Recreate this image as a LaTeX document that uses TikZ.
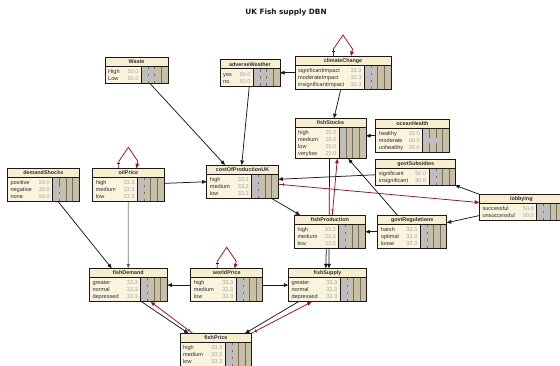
\documentclass[tikz,border=0pt]{standalone}
\usepackage{fontspec}
\setmainfont{Liberation Sans}
\newfontfamily\headfont{DejaVu Sans}
\usetikzlibrary{arrows.meta,calc,decorations.markings}
\pgfdeclarelayer{links}
\pgfsetlayers{links,main}

\definecolor{nodecream}{RGB}{247,238,210}
\definecolor{bodycream}{RGB}{250,243,222}
\definecolor{bararea}{RGB}{200,191,168}
\definecolor{gridline}{RGB}{118,108,88}
\definecolor{beliefbar}{RGB}{186,188,198}
\definecolor{valgray}{RGB}{165,165,165}
\definecolor{statetext}{RGB}{45,45,45}
\definecolor{linkred}{RGB}{150,20,25}
\definecolor{linkdark}{RGB}{25,25,25}
\definecolor{linkgrey}{RGB}{120,120,120}

\tikzset{
  bnframe/.style={fill=nodecream, draw=none, inner sep=0pt, outer sep=0pt, anchor=north west},
  bnouter/.style={draw=linkdark, line width=0.75pt},
  bnsep/.style={draw=linkdark, line width=1pt},
  bngrid/.style={draw=gridline, line width=0.6pt},
  bntitle/.style={font=\fontsize{5.4}{6}\selectfont\bfseries, text=statetext, inner sep=0pt, anchor=base},
  bnstate/.style={font=\fontsize{5.6}{6}\selectfont, text=statetext, inner sep=0pt, anchor=base west},
  bnvalue/.style={font=\fontsize{5.6}{6}\selectfont, text=valgray, inner sep=0pt, anchor=base east},
  link/.style={draw=linkdark, line width=0.75pt, -{Triangle[length=4.5pt,width=3.6pt]}},
  greylink/.style={link, draw=linkgrey, -{Triangle[length=4.5pt,width=3.6pt,fill=linkdark]}},
  templink/.style={draw=linkred, line width=0.75pt, -{Triangle[length=4.5pt,width=3.6pt]},
    postaction={decorate, decoration={markings,
      mark=at position 5pt with {\draw[-, draw=linkdark, line width=0.6pt] (0pt,-1.6pt) -- (0pt,1.6pt);}}}},
}

% \bnbox{name}{left}{top}{width}{rows}{title}{state/value,...}
\newcommand\bnbox[7]{%
  \pgfmathsetmacro\bnX{#2}%
  \pgfmathsetmacro\bnY{#3}%
  \pgfmathsetmacro\bnW{#4}%
  \pgfmathsetmacro\bnH{12.5+7*#5}%
  \pgfmathsetmacro\bnA{\bnX+\bnW-26.5}%
  \node[bnframe, minimum width=\bnW pt, minimum height=\bnH pt] (#1) at (\bnX,\bnY) {};
  \fill[bodycream] (\bnX,\bnY+9) rectangle (\bnA,\bnY+\bnH);
  \fill[bararea] (\bnA,\bnY+9) rectangle (\bnX+\bnW,\bnY+\bnH);
  \foreach \q in {1,2,3}{\draw[bngrid] (\bnA+6.625*\q,\bnY+9) -- (\bnA+6.625*\q,\bnY+\bnH);}
  \foreach \st/\va [count=\i] in {#7}{%
    \pgfmathsetmacro\bnR{\bnY+14.5+7*(\i-1)}%
    \fill[beliefbar] (\bnA,\bnR-2.4) rectangle (\bnA+0.265*\va,\bnR+2.4);
    \node[bnstate] (#1-s\i) at (\bnX+3,\bnR+2) {\st};
    \node[bnvalue] (#1-v\i) at (\bnA-2.8,\bnR+2) {\va};
  }
  \draw[bnsep] (\bnX,\bnY+9) -- (\bnX+\bnW,\bnY+9);
  \draw[bnsep] (\bnA,\bnY+9) -- (\bnA,\bnY+\bnH);
  \draw[bnouter] (#1.north west) rectangle (#1.south east);
  \node[bntitle] (#1-t) at (\bnX+\bnW/2,\bnY+6.6) {#6};
}

\begin{document}
\begin{tikzpicture}[x=1pt,y=-1pt]
\useasboundingbox (0,0) rectangle (560,365);
\clip (0,0) rectangle (560,365);

\node[font=\headfont\fontsize{7.3}{9}\selectfont\bfseries, text=linkdark, inner sep=0pt, anchor=base]
  (heading) at (286,14.3) {UK Fish supply DBN};

% network nodes
\bnbox{waste}{105}{57}{63}{2}{Waste}{High/50.0,Low/50.0}
\bnbox{aw}{220}{59.5}{60}{2}{adverseWeather}{yes/50.0,no/50.0}
\bnbox{cc}{295}{56}{96}{3}{climateChange}{significantImpact/33.3,moderateImpact/33.3,insignificantImpact/33.3}
\bnbox{fs}{295}{118.3}{71}{4}{fishStocks}{high/25.0,medium/25.0,low/25.0,verylow/25.0}
\bnbox{oh}{375.7}{119}{73.5}{3}{oceanHealth}{healthy/20.0,moderate/60.0,unhealthy/20.0}
\bnbox{ds}{7.3}{168.3}{72}{3}{demandShocks}{positive/20.0,negative/30.0,none/50.0}
\bnbox{oil}{92.7}{168.3}{71.3}{3}{oilPrice}{high/33.3,medium/33.3,low/33.3}
\bnbox{cop}{206.7}{165}{71.6}{3}{costOfProductionUK}{high/33.3,medium/33.3,low/33.3}
\bnbox{gs}{375.7}{159.3}{80}{2}{govtSubsidies}{significant/50.0,insignificant/50.0}
\bnbox{lob}{479.3}{194.3}{84}{2}{lobbying}{successful/50.0,unsuccessful/50.0}
\bnbox{fp}{294.3}{215}{71}{3}{fishProduction}{high/33.3,medium/33.3,low/33.3}
\bnbox{gr}{377.7}{215}{69}{3}{govtRegulations}{harsh/33.3,optimal/33.3,loose/33.3}
\bnbox{fd}{89.3}{268.3}{78}{3}{fishDemand}{greater/33.3,normal/33.3,depressed/33.3}
\bnbox{wp}{190.7}{268.3}{72}{3}{worldPrice}{high/33.3,medium/33.3,low/33.3}
\bnbox{fsup}{288.3}{268.3}{78.4}{3}{fishSupply}{greater/33.3,normal/33.3,depressed/33.3}
\bnbox{price}{180}{333.3}{71.7}{3}{fishPrice}{high/33.3,medium/33.3,low/33.3}

\begin{pgfonlayer}{links}
  \fill[white] (0,0) rectangle (560,365);
  % causal links
  \draw[link] (cc.west) -- (aw.east);
  \draw[link] ([xshift=13.5pt]waste.south) -- ([xshift=-17.5pt]cop.north);
  \draw[link] ([xshift=-0.7pt]aw.south) -- ([xshift=-0.8pt]cop.north);
  \draw[link] ([xshift=-2.3pt]cc.south) -- ([xshift=3.5pt]fs.north);
  \draw[link] (oh.west) -- (oh.west -| fs.east);
  \draw[link] ([yshift=1.7pt]oil.east) -- (cop.west);
  \draw[link] ([xshift=15pt]ds.south) -- ([xshift=-16.6pt]fd.north);
  \draw[greylink] (oil.south) -- (fd.north);
  \draw[link] ([xshift=29.2pt]cop.south) -- ([xshift=-29.8pt]fp.north);
  \draw[link] ([yshift=-2.2pt]gs.west) -- ([yshift=2.5pt]cop.east);
  \draw[link] ([xshift=-1pt]fs.south) -- ([xshift=1.5pt]fsup.north);
  \draw[link] ([xshift=-3.5pt]fp.south) -- ([xshift=-1.7pt]fsup.north);
  \draw[link] ([xshift=-14.9pt]gr.north) -- ([xshift=17.8pt]fs.south);
  \draw[link] (gr.west) -- (gr.west -| fp.east);
  \draw[link] (lob.north west) -- ([xshift=-0.5pt,yshift=0.5pt]gs.south east);
  \draw[link] ([yshift=-8pt]lob.west) -- ([yshift=9pt]gr.east);
  \draw[link] (wp.west) -- (wp.west -| fd.east);
  \draw[link] (wp.east) -- (wp.east -| fsup.west);
  \draw[link] ([xshift=13.4pt]fd.south) -- ([xshift=-27.5pt]price.north);
  \draw[link] ([xshift=-29.2pt]fsup.south) -- ([xshift=29.2pt]price.north);
  % temporal links
  \draw[templink] ([yshift=-2.5pt]cop.east) -- ([yshift=5pt]lob.west);
  \draw[templink] ([xshift=2.5pt]fp.north) -- ([xshift=6.8pt]fs.south);
  \draw[templink] ([xshift=-23.2pt]price.north) -- ([xshift=22.4pt]fd.south);
  \draw[templink] ([xshift=35.5pt]price.north) -- ([xshift=-15.8pt]fsup.south);
  \draw[templink] ([xshift=-9.5pt]oil.north) -- ++(0,-7) -- ++(9.5,-14) -- ++(9.5,14) -- ([xshift=8pt]oil.north);
  \draw[templink] ([xshift=-9.5pt]wp.north) -- ++(0,-7) -- ++(9.5,-14) -- ++(9.5,14) -- ([xshift=8pt]wp.north);
  \draw[templink] ([xshift=-9.5pt]cc.north) -- ++(0,-7) -- ++(9.5,-14) -- ++(9.5,14) -- ([xshift=8pt]cc.north);
\end{pgfonlayer}
\end{tikzpicture}
\end{document}
